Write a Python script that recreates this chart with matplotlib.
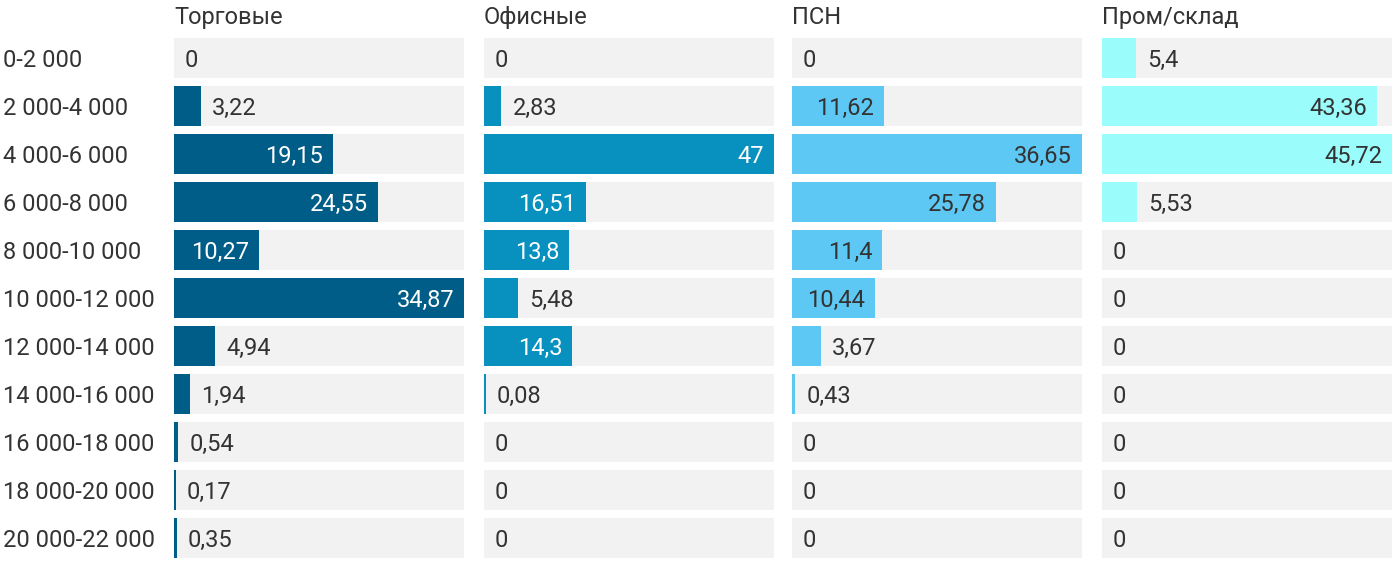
import matplotlib.pyplot as plt
from matplotlib.transforms import blended_transform_factory

plt.rcParams['font.family'] = ['Roboto', 'DejaVu Sans']

ranges = ["0-2 000", "2 000-4 000", "4 000-6 000", "6 000-8 000",
          "8 000-10 000", "10 000-12 000", "12 000-14 000", "14 000-16 000",
          "16 000-18 000", "18 000-20 000", "20 000-22 000"]

titles = ["Торговые", "Офисные", "ПСН", "Пром/склад"]

trade = [0, 3.22, 19.15, 24.55, 10.27, 34.87, 4.94, 1.94, 0.54, 0.17, 0.35]
office = [0, 2.83, 47, 16.51, 13.8, 5.48, 14.3, 0.08, 0, 0, 0]
psn = [0, 11.62, 36.65, 25.78, 11.4, 10.44, 3.67, 0.43, 0, 0, 0]
warehouse = [5.4, 43.36, 45.72, 5.53, 0, 0, 0, 0, 0, 0, 0]

series = [trade, office, psn, warehouse]
colors = ["#005d87", "#0891be", "#5ec8f4", "#9bfcfc"]
inside_text = ["white", "white", "#333333", "#333333"]

W, H = 1400, 574
fig = plt.figure(figsize=(W / 100, H / 100), dpi=100)

panel_left = [174, 484, 792, 1102]
panel_w = 290
top, bottom = 34, 562   # пиксели, 11 строк по 48
fs = 17

def fmt(v):
    s = ("%g" % v).replace(".", ",")
    return s

for k, vals in enumerate(series):
    ax = fig.add_axes([panel_left[k] / W, 1 - bottom / H,
                       panel_w / W, (bottom - top) / H])
    vmax = max(vals)
    y = range(len(ranges))
    ax.barh(y, [vmax] * len(vals), height=40 / 48, color="#f2f2f2", zorder=1)
    # минимальная ширина, чтобы маленькие значения были видны
    shown = [v if v == 0 else max(v, vmax * 0.006) for v in vals]
    ax.barh(y, shown, height=40 / 48, color=colors[k], zorder=2)
    ax.set_xlim(0, vmax)
    ax.set_ylim(len(ranges) - 0.5, -0.5)
    ax.axis("off")

    for i, v in enumerate(vals):
        if v / vmax > 0.2:
            ax.annotate(fmt(v), (v, i), xytext=(-10, 0),
                        textcoords="offset pixels", ha="right",
                        va="center_baseline",
                        fontsize=fs, color=inside_text[k], zorder=3)
        else:
            ax.annotate(fmt(v), (shown[i], i), xytext=(11, 0),
                        textcoords="offset pixels", ha="left",
                        va="center_baseline",
                        fontsize=fs, color="#333333", zorder=3)

    fig.text(panel_left[k] / W, 1 - 15 / H, titles[k], ha="left",
             va="center_baseline", fontsize=fs, color="#333333")

    if k == 0:
        tr = blended_transform_factory(fig.transFigure, ax.transData)
        for i, lab in enumerate(ranges):
            ax.text(3 / W, i, lab, transform=tr, ha="left",
                    va="center_baseline", fontsize=fs, color="#333333")

fig.savefig("out.png", dpi=100, facecolor="white")
